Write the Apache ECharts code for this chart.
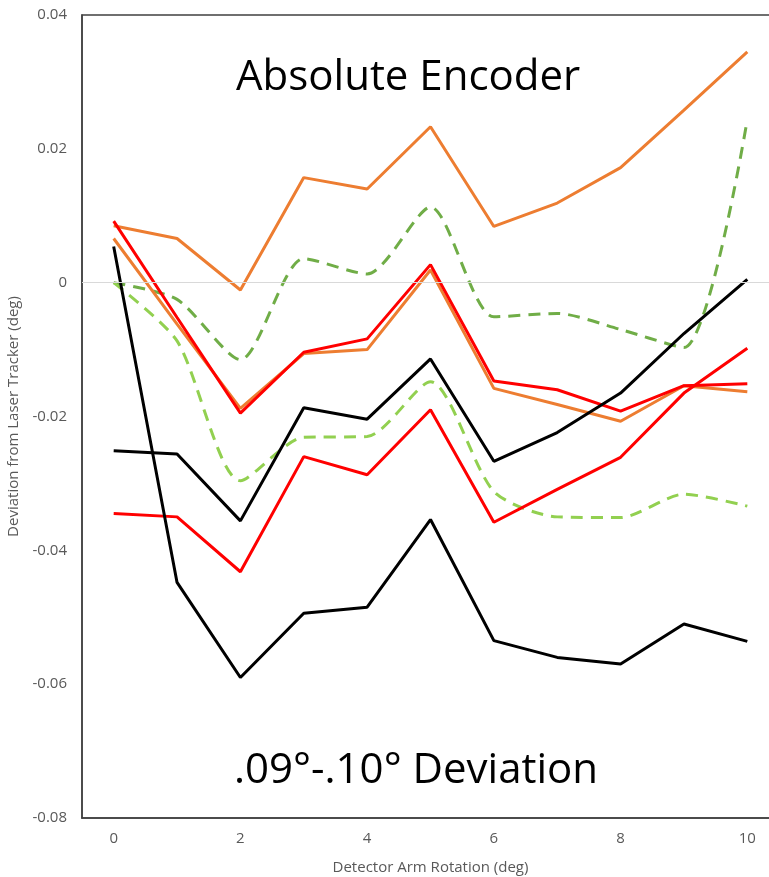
<!DOCTYPE html>
<html>
<head>
<meta charset="utf-8">
<script src="https://cdn.jsdelivr.net/npm/echarts@6/dist/echarts.min.js"></script>
<style>
  html, body { margin: 0; padding: 0; background: #fff; overflow: hidden; }
  /* plot box runs past the right edge of the window, as in the reference */
  #chart { width: 780px; height: 877px; }
</style>
</head>
<body>
<div id="chart"></div>
<script>
  // x categories: detector arm rotation (deg)
  const rotations = ['0', '1', '2', '3', '4', '5', '6', '7', '8', '9', '10'];

  const orangeHigh = [0.0085, 0.0066, -0.0011, 0.0157, 0.014, 0.0233, 0.0084, 0.0119, 0.0172, 0.0258, 0.0345];
  const orangeLow = [0.0066, -0.0062, -0.0188, -0.0106, -0.01, 0.0019, -0.0158, -0.0182, -0.0207, -0.0154, -0.0163];
  const redHigh = [0.0092, -0.0052, -0.0195, -0.0104, -0.0084, 0.0027, -0.0147, -0.016, -0.0192, -0.0154, -0.0151];
  const redLow = [-0.0345, -0.035, -0.0432, -0.026, -0.0287, -0.019, -0.0358, -0.0309, -0.0261, -0.0165, -0.0098];
  const blackHigh = [-0.0251, -0.0256, -0.0356, -0.0187, -0.0204, -0.0114, -0.0267, -0.0224, -0.0165, -0.0076, 0.0005];
  const blackLow = [0.0054, -0.0448, -0.059, -0.0494, -0.0485, -0.0354, -0.0535, -0.056, -0.057, -0.051, -0.0536];
  const greenDark = [0, -0.0025, -0.0115, 0.0036, 0.0013, 0.0113, -0.0051, -0.0046, -0.007, -0.0097, 0.0244];
  const greenLight = [0, -0.0087, -0.0296, -0.0231, -0.023, -0.0148, -0.0312, -0.035, -0.0351, -0.0316, -0.0334];

  const yTicks = { min: -0.08, max: 0.04, step: 0.02 };

  const chart = echarts.init(document.getElementById('chart'));

  const solid = (name, data, color) => ({
    name, type: 'line', data,
    symbol: 'none', smooth: false,
    lineStyle: { color, width: 3 },
    itemStyle: { color }
  });
  const dashed = (name, data, color) => ({
    name, type: 'line', data,
    symbol: 'none', smooth: 0.25,
    lineStyle: { color, width: 3, type: [12, 8] },
    itemStyle: { color }
  });

  const txt = { fontFamily: 'Open Sans', fontSize: 15, color: '#595959' };

  const zeroLine = {
    silent: true,
    symbol: 'none',
    label: { show: false },
    lineStyle: { color: '#d9d9d9', width: 1, type: 'solid' },
    data: [{ yAxis: 0 }]
  };

  const series = [
    Object.assign(solid('orange 1', orangeHigh, '#ED7D31'), { markLine: zeroLine }),
    dashed('green 1', greenDark, '#70AD47'),
    dashed('green 2', greenLight, '#92D050'),
    solid('orange 2', orangeLow, '#ED7D31'),
    solid('red 1', redHigh, '#FF0000'),
    solid('black 1', blackHigh, '#000000'),
    solid('red 2', redLow, '#FF0000'),
    solid('black 2', blackLow, '#000000')
  ];

  const option = {
    animation: false,
    backgroundColor: '#fff',
    grid: {
      left: 82, top: 15, right: 1, bottom: 59,
      outerBoundsMode: 'none',
      show: true, borderColor: '#404040', borderWidth: 1.5
    },
    xAxis: {
      type: 'category',
      data: rotations,
      boundaryGap: true,
      name: 'Detector Arm Rotation (deg)',
      nameLocation: 'middle',
      nameGap: 42,
      nameTextStyle: txt,
      axisLine: { onZero: false, lineStyle: { color: '#404040', width: 1.5 } },
      axisTick: { show: false },
      axisLabel: Object.assign({ interval: 1, margin: 13 }, txt),
      splitLine: { show: false }
    },
    yAxis: {
      type: 'value',
      min: yTicks.min, max: yTicks.max, interval: yTicks.step,
      name: 'Deviation from Laser Tracker (deg)',
      nameLocation: 'middle',
      nameGap: 55,
      nameTextStyle: txt,
      axisLine: { show: true, lineStyle: { color: '#404040', width: 1.5 } },
      axisTick: { show: false },
      axisLabel: Object.assign({ margin: 15 }, txt),
      splitLine: { show: false }
    },
    graphic: [
      {
        type: 'text', left: 236, top: 57,
        style: { text: 'Absolute Encoder', font: '42px "Open Sans"', fill: '#000' }
      },
      {
        type: 'text', left: 234, top: 750,
        style: { text: '.09°-.10° Deviation', font: '42px "Open Sans"', fill: '#000' }
      }
    ],
    series
  };

  chart.setOption(option);
</script>
</body>
</html>
